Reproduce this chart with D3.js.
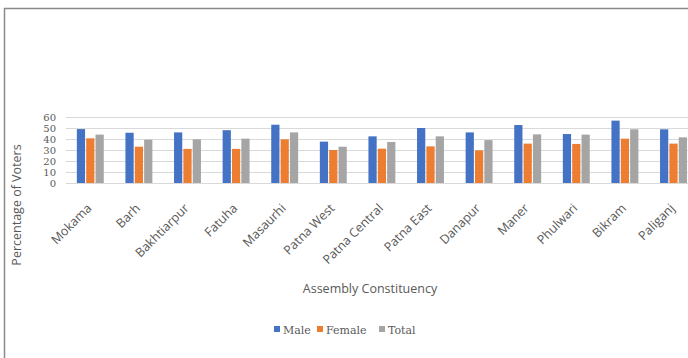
<!DOCTYPE html>
<html lang="en">
<head>
<meta charset="utf-8">
<script src="https://cdn.jsdelivr.net/npm/d3@7"></script>
<style type="text/css">
body {
	margin: 0;
	background-color: #ffffff;
	font-family: 'Open Sans', sans-serif;
}
.axis text {
	fill: #595959;
}
</style>
</head>
<body>
<script type="text/javascript">

// constituencies shown in the picture (chart is cut off at the right edge)
var categories = ["Mokama", "Barh", "Bakhtiarpur", "Fatuha", "Masaurhi", "Patna West",
	"Patna Central", "Patna East", "Danapur", "Maner", "Phulwari", "Bikram", "Paliganj"];

var male   = [49, 45.7, 46, 48, 53, 37.6, 42.4, 50, 46, 52.7, 44.5, 56.7, 48.8];
var female = [40.6, 33, 31, 31, 39.7, 30, 31.2, 33.3, 29.7, 35.8, 35.5, 40.3, 35.8];
var total  = [44, 39.4, 39.7, 40.3, 46, 33, 37.3, 42.4, 39, 44.2, 44, 48.8, 41.5];

var seriesNames = ["Male", "Female", "Total"];
var yTicks = [0, 10, 20, 30, 40, 50, 60];

var colors = { Male: "#4472c4", Female: "#ed7d31", Total: "#a5a5a5" };

var width = 688, height = 358;

var svg = d3.select("body").append("svg")
	.attr("width", width)
	.attr("height", height);

// chart frame (runs off the right and bottom of the picture)
svg.append("rect")
	.attr("x", 4.5).attr("y", 8.5)
	.attr("width", 720).attr("height", 400)
	.style("fill", "none")
	.style("stroke", "#8a8a8a")
	.style("stroke-width", 1.5);

var plotLeft = 66, step = 48.6;

var x = d3.scaleBand()
	.domain(categories)
	.range([plotLeft, plotLeft + step * categories.length])
	.paddingInner(0.4)
	.paddingOuter(0.2);

var xs = d3.scaleBand()
	.domain(seriesNames)
	.range([0, x.bandwidth()])
	.padding(0.12);

var y = d3.scaleLinear()
	.domain([0, 60])
	.range([183, 117]);

// gridlines
svg.append("g")
	.selectAll("line")
	.data(yTicks)
	.enter()
	.append("line")
	.attr("x1", plotLeft)
	.attr("x2", width)
	.attr("y1", function(d) { return Math.round(y(d)) + 0.5; })
	.attr("y2", function(d) { return Math.round(y(d)) + 0.5; })
	.style("stroke", "#d9d9d9")
	.style("stroke-width", 1);

// y axis labels
var yAxis = d3.axisLeft(y).tickValues(yTicks).tickSize(0).tickPadding(0);
var gy = svg.append("g")
	.attr("class", "axis")
	.attr("transform", "translate(56,0)")
	.call(yAxis);
gy.select(".domain").remove();
gy.selectAll("text")
	.style("font-family", "'DejaVu Serif', serif")
	.style("font-size", "10px")
	.style("fill", "#595959");

// bars
var rows = categories.map(function(c, i) {
	return { name: c, Male: male[i], Female: female[i], Total: total[i] };
});

var groups = svg.append("g")
	.selectAll("g")
	.data(rows)
	.enter()
	.append("g")
	.attr("transform", function(d) { return "translate(" + x(d.name) + ",0)"; });

groups.selectAll("rect")
	.data(function(d) { return seriesNames.map(function(s) { return { key: s, value: d[s] }; }); })
	.enter()
	.append("rect")
	.attr("x", function(d) { return xs(d.key); })
	.attr("y", function(d) { return y(d.value); })
	.attr("width", xs.bandwidth())
	.attr("height", function(d) { return y(0) - y(d.value); })
	.style("fill", function(d) { return colors[d.key]; });

// category labels, rotated
var xAxis = d3.axisBottom(x).tickSize(0).tickPadding(0);
var gx = svg.append("g")
	.attr("class", "axis")
	.attr("transform", "translate(0,190)")
	.call(xAxis);
gx.select(".domain").remove();
gx.selectAll("text")
	.attr("text-anchor", "end")
	.attr("dy", null)
	.attr("y", 0)
	.attr("transform", "translate(2,19) rotate(-45)")
	.style("font-family", "'Open Sans', sans-serif")
	.style("font-size", "12.5px")
	.style("fill", "#595959");

// axis titles
svg.append("text")
	.attr("transform", "translate(21,205) rotate(-90)")
	.attr("text-anchor", "middle")
	.style("font-size", "12.5px")
	.style("fill", "#595959")
	.text("Percentage of Voters");

svg.append("text")
	.attr("x", 370)
	.attr("y", 293)
	.attr("text-anchor", "middle")
	.style("font-size", "12.5px")
	.style("fill", "#595959")
	.text("Assembly Constituency");

// legend
var legendX = [274, 317, 379];
var legend = svg.append("g")
	.selectAll("g")
	.data(seriesNames)
	.enter()
	.append("g")
	.attr("transform", function(d, i) { return "translate(" + legendX[i] + ",330)"; });

legend.append("rect")
	.attr("x", 0).attr("y", -4)
	.attr("width", 6).attr("height", 6)
	.style("fill", function(d) { return colors[d]; });

legend.append("text")
	.attr("x", 9)
	.attr("y", 4)
	.style("font-family", "'DejaVu Serif', serif")
	.style("font-size", "11px")
	.style("fill", "#595959")
	.text(function(d) { return d; });

</script>
</body>
</html>
